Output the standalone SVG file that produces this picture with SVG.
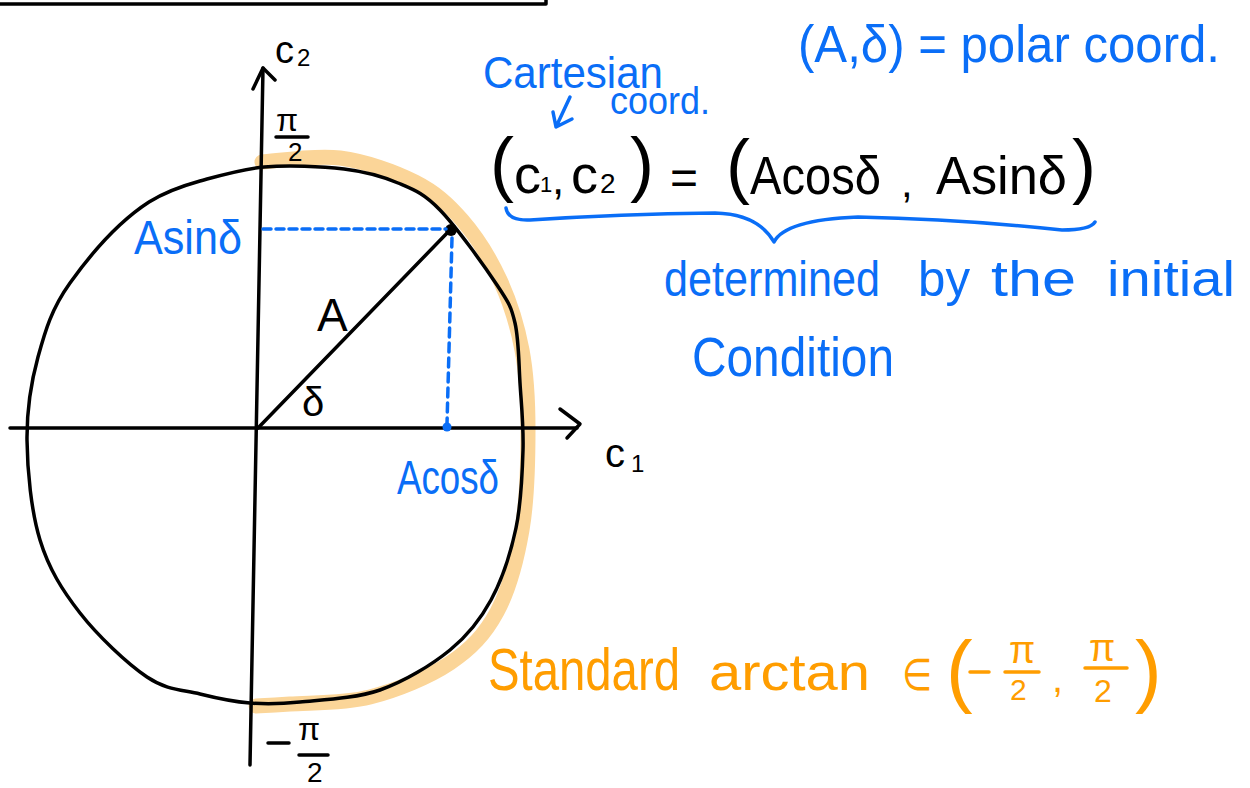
<svg xmlns="http://www.w3.org/2000/svg" width="1250" height="788" viewBox="0 0 1250 788">
<style>
.k{fill:none;stroke:#000;stroke-width:3.5;stroke-linecap:round;stroke-linejoin:round}
.bl{fill:none;stroke:#0A6EF7;stroke-width:3.5;stroke-linecap:round;stroke-linejoin:round}
.hl{fill:none;stroke:#FBD598;stroke-width:15;stroke-linecap:round;stroke-linejoin:round}
.or{fill:none;stroke:#FF9D00;stroke-width:3.5;stroke-linecap:round}
text{font-family:"Liberation Sans","DejaVu Sans",sans-serif}
.tk{fill:#000}
.tb{fill:#0A6EF7}
.to{fill:#FF9D00}
</style>
<rect width="1250" height="788" fill="#fff"/>
<path class="k" d="M0 4 H546 V0" stroke-width="4"/>

<g id="highlight">
<path class="hl" d="M262 162 C275 161.3 314.5 154.7 340 158 C365.5 161.3 394.7 171.7 415 182 C435.3 192.3 447.8 203.7 462 220 C476.2 236.3 490 258.3 500 280 C510 301.7 517.3 325 522 350 C526.7 375 528 400 528 430 C528 460 527.2 499.7 522 530 C516.8 560.3 509 589.8 497 612 C485 634.2 471.2 648.8 450 663 C428.8 677.2 396.7 690.2 370 697 C343.3 703.8 309 702.5 290 704 C271 705.5 262 705.7 256 706"/>
</g>

<g id="circle">
<path class="k" d="M264 167 C288 164.8 321.7 166.3 344 169 C366.3 171.7 382 176.2 398 183 C414 189.8 423.5 193 440 210 C456.5 227 484.5 266.2 497 285 C509.5 303.8 511.2 306.7 515 323 C518.8 339.3 518.7 361.8 520 383 C521.3 404.2 523.7 425.8 523 450 C522.3 474.2 521.3 503 516 528 C510.7 553 502 579.7 491 600 C480 620.3 468.5 635 450 650 C431.5 665 405 681.3 380 690 C355 698.7 321.7 699.8 300 702 C278.3 704.2 266.7 704.3 250 703 C233.3 701.7 217.2 698.3 200 694 C182.8 689.7 167 690.5 147 677 C127 663.5 97.8 635.8 80 613 C62.2 590.2 48.8 568.8 40 540 C31.2 511.2 27.3 470.5 27 440 C26.7 409.5 30.8 383.2 38 357 C45.2 330.8 51.5 308.8 70 283 C90 255 118 222 149 202 C165 192 182 186 200 181 C222 175 242 169 264 167 Z"/>
</g>

<g id="axes">
<path class="k" d="M10 428 H577"/>
<path class="k" d="M560 409 L580 424 L567 438"/>
<path class="k" d="M263 68 L250 765"/>
<path class="k" d="M253 89 L263 68 L275 80"/>
</g>

<g id="radius">
<path class="k" d="M258 428 L451 229"/>
<circle cx="451" cy="230" r="6" fill="#000"/>
</g>

<g id="projections">
<path class="bl" d="M263 229 H446" stroke-dasharray="8 5"/>
<path class="bl" d="M452 238 L447 424" stroke-dasharray="9 6"/>
<circle cx="447" cy="427" r="4.5" fill="#0A6EF7"/>
</g>

<g id="axis-labels">
<text class="tk" x="275" y="63" font-size="38">c</text>
<text class="tk" x="297" y="66" font-size="24">2</text>
<text class="tk" x="605" y="467" font-size="40">c</text>
<text class="tk" x="631" y="472" font-size="24">1</text>
<text class="tk" x="276" y="131" font-size="32">π</text>
<path class="k" d="M276 137 H308" stroke-width="3"/>
<text class="tk" x="288" y="161" font-size="26">2</text>
<path class="k" d="M268 743 H289" stroke-width="3"/>
<text class="tk" x="298" y="740" font-size="32">π</text>
<path class="k" d="M299 755 H328" stroke-width="3"/>
<text class="tk" x="307" y="782" font-size="28">2</text>
<text class="tk" x="317" y="331" font-size="46">A</text>
<text class="tk" x="302" y="416" font-size="40">δ</text>
<text class="tb" x="134" y="254" font-size="48" textLength="108" lengthAdjust="spacingAndGlyphs">Asinδ</text>
<text class="tb" x="397" y="494" font-size="48" textLength="102" lengthAdjust="spacingAndGlyphs">Acosδ</text>
</g>

<g id="notes">
<text class="tb" x="798" y="62" font-size="52" textLength="422" lengthAdjust="spacingAndGlyphs">(A,δ) = polar coord.</text>
<text class="tb" x="483" y="88" font-size="44" textLength="180" lengthAdjust="spacingAndGlyphs">Cartesian</text>
<text class="tb" x="610" y="114" font-size="38" textLength="100" lengthAdjust="spacingAndGlyphs">coord.</text>
<path class="bl" d="M570 97 L556 127 M553 112 L556 127 L572 119"/>

<text class="tk" x="490" y="188" font-size="72">(</text>
<text class="tk" x="514" y="193" font-size="54">c</text>
<text class="tk" x="540" y="192" font-size="22">1</text>
<text class="tk" x="552" y="194" font-size="44">,</text>
<text class="tk" x="571" y="193" font-size="54">c</text>
<text class="tk" x="600" y="193" font-size="28">2</text>
<text class="tk" x="630" y="188" font-size="72">)</text>
<text class="tk" x="670" y="194" font-size="48">=</text>
<text class="tk" x="726" y="190" font-size="72">(</text>
<text class="tk" x="750" y="194" font-size="54" textLength="131" lengthAdjust="spacingAndGlyphs">Acosδ</text>
<text class="tk" x="901" y="197" font-size="42">,</text>
<text class="tk" x="936" y="194" font-size="54" textLength="131" lengthAdjust="spacingAndGlyphs">Asinδ</text>
<text class="tk" x="1072" y="190" font-size="72">)</text>

<path class="bl" d="M506 208 Q508 221 530 220 Q620 214 715 213 Q758 214 774 242 Q785 220 858 217 Q960 219 1062 230 Q1090 230 1095 222"/>

<text class="tb" x="664" y="296" font-size="50" textLength="216" lengthAdjust="spacingAndGlyphs">determined</text>
<text class="tb" x="918" y="296" font-size="50" textLength="52" lengthAdjust="spacingAndGlyphs">by</text>
<text class="tb" x="991" y="296" font-size="50" textLength="85" lengthAdjust="spacingAndGlyphs">the</text>
<text class="tb" x="1107" y="296" font-size="50" textLength="128" lengthAdjust="spacingAndGlyphs">initial</text>
<text class="tb" x="692" y="376" font-size="56" textLength="202" lengthAdjust="spacingAndGlyphs">Condition</text>

<text class="to" transform="translate(488 690) scale(1 1.25)" x="0" y="0" font-size="47" textLength="192" lengthAdjust="spacingAndGlyphs">Standard</text>
<text class="to" x="709" y="690" font-size="52" textLength="161" lengthAdjust="spacingAndGlyphs">arctan</text>
<text class="to" x="902" y="690" font-size="44" textLength="30" lengthAdjust="spacingAndGlyphs">∈</text>
<text class="to" x="946" y="697" font-size="80">(</text>
<path class="or" d="M970 672 H989"/>
<text class="to" x="1009" y="663" font-size="38">π</text>
<path class="or" d="M1005 672 H1039"/>
<text class="to" x="1010" y="700" font-size="30">2</text>
<text class="to" x="1052" y="692" font-size="40">,</text>
<text class="to" x="1089" y="661" font-size="38">π</text>
<path class="or" d="M1085 668 H1127"/>
<text class="to" x="1094" y="702" font-size="32">2</text>
<text class="to" x="1135" y="697" font-size="80">)</text>
</g>
</svg>
